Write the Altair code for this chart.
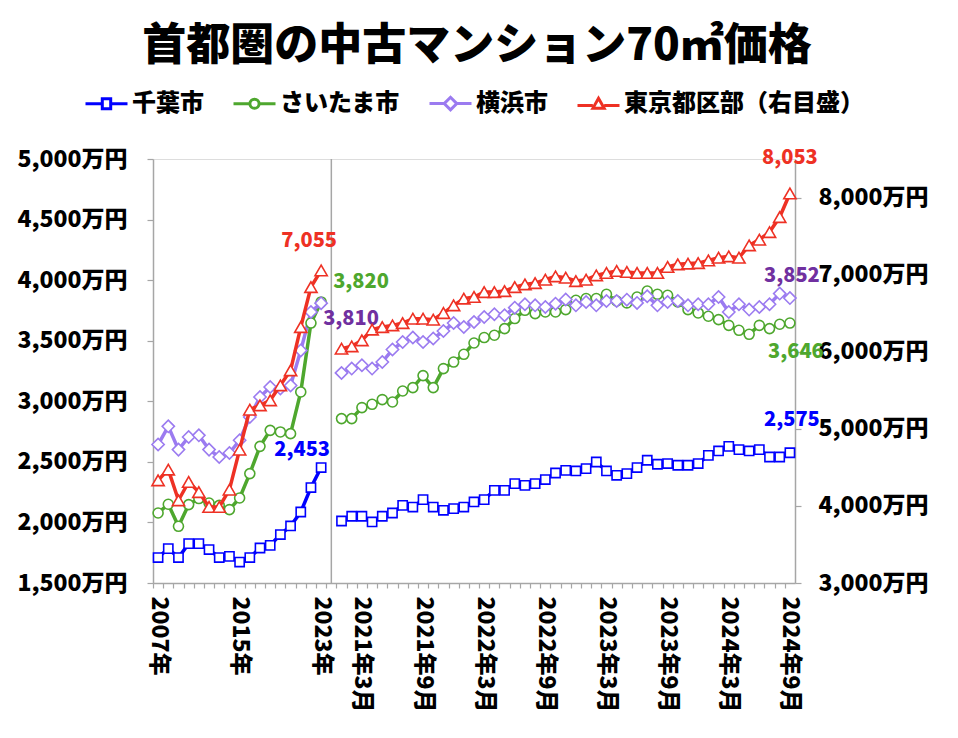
import altair as alt
import pandas as pd

# ---------------- data ----------------
YEARS = [f"{y}年" for y in range(2007, 2024)]                      # 17 annual points
MONTHS = [f"{y}年{m}月" for y in range(2021, 2025) for m in range(1, 13)][:45]  # 2021年1月 .. 2024年9月
CATEGORIES = YEARS + [""] + MONTHS                                   # blank slot between sections
SHOWN_LABELS = ["2007年", "2015年", "2023年", "2021年3月", "2021年9月", "2022年3月",
                "2022年9月", "2023年3月", "2023年9月", "2024年3月", "2024年9月"]

SERIES = ["千葉市", "さいたま市", "横浜市", "東京都区部（右目盛）"]

chiba_annual = [1710, 1784, 1710, 1825, 1825, 1776, 1710, 1720, 1673, 1710, 1789, 1811, 1900, 1971, 2086, 2288, 2453]
saitama_annual = [2078, 2150, 1968, 2147, 2197, 2160, 2141, 2106, 2202, 2403, 2628, 2760, 2747, 2733, 3077, 3646, 3820]
yokohama_annual = [2643, 2793, 2601, 2705, 2719, 2601, 2540, 2573, 2678, 2870, 3035, 3118, 3105, 3130, 3420, 3737, 3810]
tokyo_annual = [4332, 4471, 4073, 4310, 4180, 3986, 3986, 4211, 4730, 5249, 5305, 5370, 5564, 5759, 6320, 6839, 7055]

chiba_monthly = [2012, 2051, 2051, 2004, 2051, 2078, 2141, 2127, 2188, 2127, 2100, 2114, 2127, 2169, 2188,
                 2265, 2265, 2320, 2306, 2320, 2354, 2408, 2430, 2425, 2444, 2499, 2425, 2389, 2403, 2453,
                 2513, 2480, 2486, 2472, 2472, 2486, 2554, 2590, 2628, 2601, 2590, 2601, 2540, 2540, 2575]
saitama_monthly = [2857, 2857, 2948, 2975, 3014, 2994, 3085, 3113, 3212, 3113, 3270, 3324, 3388, 3481, 3526,
                   3545, 3600, 3683, 3751, 3724, 3737, 3737, 3757, 3834, 3848, 3848, 3883, 3828, 3812, 3861,
                   3910, 3883, 3875, 3820, 3757, 3729, 3702, 3674, 3627, 3586, 3553, 3627, 3600, 3636, 3646]
yokohama_monthly = [3234, 3270, 3297, 3270, 3324, 3427, 3489, 3526, 3489, 3518, 3580, 3646, 3613, 3655, 3696,
                    3718, 3710, 3773, 3801, 3792, 3778, 3806, 3840, 3792, 3820, 3792, 3828, 3828, 3839, 3812,
                    3867, 3792, 3820, 3828, 3792, 3801, 3801, 3861, 3737, 3801, 3757, 3778, 3801, 3889, 3852]
tokyo_monthly = [6040, 6070, 6148, 6287, 6320, 6342, 6372, 6429, 6429, 6416, 6502, 6602, 6689, 6710, 6774,
                 6774, 6787, 6839, 6874, 6891, 6935, 6978, 6961, 6917, 6935, 6991, 7021, 7047, 7034, 7021,
                 7021, 7021, 7099, 7134, 7143, 7150, 7185, 7220, 7237, 7220, 7380, 7454, 7552, 7747, 8053]

# ---------------- styles ----------------
FONT = "Noto Sans CJK JP"
LINE_COLORS = ["#0000FF", "#4EA72E", "#9B7BF0", "#EE3124"]
LABEL_COLORS = ["#0000FF", "#4EA72E", "#7030A0", "#EE3124"]
SHAPES = ["square", "circle", "diamond", "triangle-up"]
SIZES = [85, 100, 150, 150]
LEGEND_PATHS = [
    "M-1,0H-0.22M0.22,0H1M-0.2,-0.24H0.2V0.24H-0.2Z",
    "M-1,0H-0.24M0.24,0H1M-0.22,0A0.22,0.22 0 1,0 0.22,0A0.22,0.22 0 1,0 -0.22,0Z",
    "M-1,0H-0.3M0.3,0H1M-0.3,0L0,-0.3L0.3,0L0,0.3Z",
    "M-1,0.08H-0.27M0.27,0.08H1M-0.27,0.22L0,-0.26L0.27,0.22Z",
]
# (dx, dy, align) of the value labels at each section end
LABEL_POS = {
    ("千葉市", "annual"): (-19, -18, "center"),
    ("さいたま市", "annual"): (12, -20, "left"),
    ("横浜市", "annual"): (2, 16, "left"),
    ("東京都区部（右目盛）", "annual"): (-12, -29, "center"),
    ("千葉市", "monthly"): (2, -33, "center"),
    ("さいたま市", "monthly"): (6, 29, "center"),
    ("横浜市", "monthly"): (2, -22, "center"),
    ("東京都区部（右目盛）", "monthly"): (0, -35, "center"),
}

W, H = 642, 424
N = len(CATEGORIES)
CAT_W = W / N
GRAY = "#A6A6A6"
WEIGHT = 900

# ---------------- tables ----------------
rows = []
for name, ann, mon in zip(SERIES,
                          [chiba_annual, saitama_annual, yokohama_annual, tokyo_annual],
                          [chiba_monthly, saitama_monthly, yokohama_monthly, tokyo_monthly]):
    for i, v in enumerate(ann):
        rows.append({"series": name, "idx": i, "value": v, "seg": "annual"})
    for j, v in enumerate(mon):
        rows.append({"series": name, "idx": len(YEARS) + 1 + j, "value": v, "seg": "monthly"})
df = pd.DataFrame(rows)
ends = df.groupby(["series", "seg"], as_index=False).last()
ends["label"] = ends["value"].map(lambda v: f"{v:,}")
sep_df = pd.DataFrame({"idx": [len(YEARS)]})

LEFT = SERIES[:3]
RIGHT = SERIES[3:]
df_left = df[df.series.isin(LEFT)]
df_right = df[df.series.isin(RIGHT)]

# ---------------- encodings ----------------
label_expr = " : ".join(
    f"datum.value == {CATEGORIES.index(l)} ? '{l}'" for l in SHOWN_LABELS) + " : ''"

axis_common = dict(domainColor=GRAY, domainWidth=1.5, tickColor=GRAY, tickWidth=1.2,
                   labelFont=FONT, labelFontSize=23, labelFontWeight=WEIGHT, labelColor="#000",
                   grid=False, title=None)

x_enc = alt.X("idx:Q",
              scale=alt.Scale(domain=[-0.5, N - 0.5], nice=False, zero=False),
              axis=alt.Axis(values=list(range(N)), labelExpr=label_expr, labelAngle=90,
                            tickOffset=-CAT_W / 2, labelOffset=CAT_W / 2, tickSize=5,
                            labelPadding=8, labelOverlap=False, labelFlush=False, **axis_common),
              title=None)

y_left = alt.Y("value:Q",
               scale=alt.Scale(domain=[1500, 5000], nice=False, zero=False),
               axis=alt.Axis(orient="left", values=list(range(1500, 5001, 500)),
                             labelExpr="format(datum.value, ',') + '万円'", tickSize=6,
                             labelPadding=20, **axis_common),
               title=None)
y_right = alt.Y("value:Q",
                scale=alt.Scale(domain=[3000, 8500], nice=False, zero=False),
                axis=alt.Axis(orient="right", values=list(range(3000, 8001, 1000)),
                              labelExpr="format(datum.value, ',') + '万円'", tickSize=6,
                              labelPadding=17, **axis_common),
                title=None)


def group(data, names, y_enc, with_sep):
    idxs = [SERIES.index(n) for n in names]
    col = alt.Color("series:N", scale=alt.Scale(domain=names, range=[LINE_COLORS[i] for i in idxs]),
                    legend=None)
    base = alt.Chart(data)
    layers = []
    if with_sep:
        layers.append(alt.Chart(sep_df).mark_rule(color=GRAY, strokeWidth=1.5).encode(x=x_enc))
    layers.append(base.mark_line(strokeWidth=3.5).encode(x=x_enc, y=y_enc, color=col, detail="seg:N"))
    for n in names:
        k = SERIES.index(n)
        layers.append(
            base.transform_filter(alt.datum.series == n).mark_point(
                shape=SHAPES[k], size=SIZES[k], filled=False, fill="white", fillOpacity=1,
                opacity=1, strokeWidth=1.6
            ).encode(x=x_enc, y=y_enc, color=col))
    for n in names:
        for seg in ["annual", "monthly"]:
            dx, dy, align = LABEL_POS[(n, seg)]
            layers.append(
                alt.Chart(ends).transform_filter(
                    (alt.datum.series == n) & (alt.datum.seg == seg)
                ).mark_text(font=FONT, fontSize=20, fontWeight=WEIGHT, dx=dx, dy=dy, align=align,
                            baseline="middle", color=LABEL_COLORS[SERIES.index(n)]
                ).encode(x=x_enc, y=y_enc, text="label:N"))
    return alt.layer(*layers)


left_group = group(df_left, LEFT, y_left, True)
right_group = group(df_right, RIGHT, y_right, False)

legend_def = dict(orient="none", legendX=-69, legendY=-78, direction="horizontal", columns=4,
                  title=None, symbolSize=1764, symbolStrokeWidth=3, symbolOpacity=1,
                  labelFont=FONT, labelFontSize=24, labelFontWeight=WEIGHT, labelColor="#000",
                  labelOffset=3, columnPadding=23, labelLimit=400)
legend_layer = alt.Chart(pd.DataFrame({"series": SERIES})).transform_filter("false").mark_point(
    filled=False, opacity=1).encode(
    color=alt.Color("series:N", scale=alt.Scale(domain=SERIES, range=LINE_COLORS),
                    legend=alt.Legend(**legend_def)),
    shape=alt.Shape("series:N", scale=alt.Scale(domain=SERIES, range=LEGEND_PATHS),
                    legend=alt.Legend(**legend_def)),
)

chart = alt.layer(left_group, right_group, legend_layer).resolve_scale(
    y="independent", color="independent", shape="independent"
).properties(
    width=W, height=H,
    title=alt.Title("首都圏の中古マンション70㎡価格", font=FONT, fontSize=44, fontWeight=WEIGHT,
                    color="#000", anchor="middle", frame="group", offset=12, dx=3),
    padding={"left": 145, "top": 151, "right": 150, "bottom": 140},
    autosize=alt.AutoSizeParams(type="none"),
).configure_view(stroke=GRAY, strokeWidth=1.5).configure(background="white")

chart.save("out.html", embed_options={"renderer": "svg", "actions": False})
